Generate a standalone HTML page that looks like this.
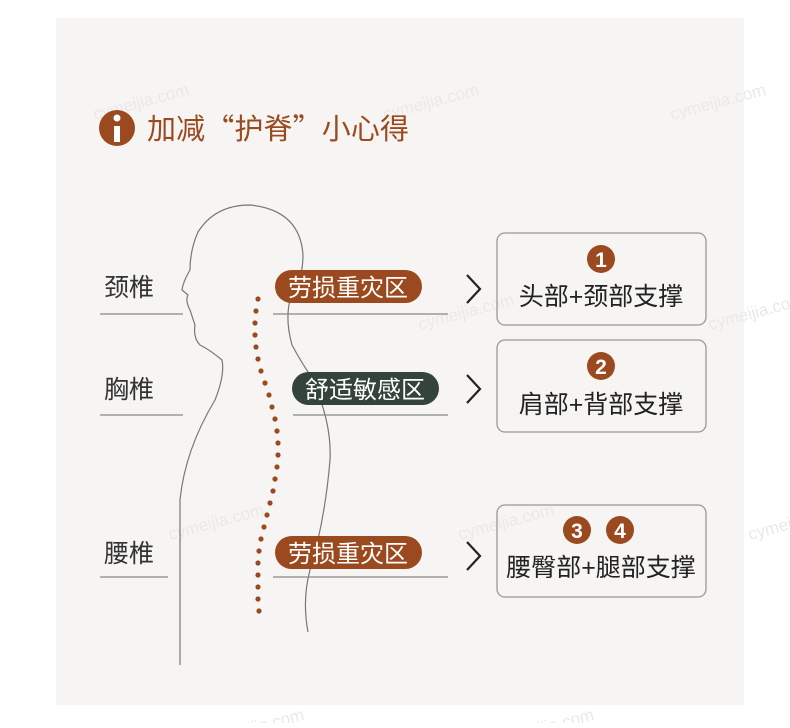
<!DOCTYPE html>
<html><head><meta charset="utf-8"><style>
body{margin:0;width:790px;height:723px;background:#fff;overflow:hidden;font-family:"Liberation Sans","Noto Sans CJK SC",sans-serif}
</style></head><body>
<svg width="790" height="723" xmlns="http://www.w3.org/2000/svg" font-family="Liberation Sans, Noto Sans CJK SC, sans-serif">
<rect x="56" y="18" width="688" height="687" fill="#f6f5f3"/>
<g fill="#ebe9e7" font-size="17">
<text x="95" y="120" transform="rotate(-15 95 120)">cymeijia.com</text>
<text x="385" y="120" transform="rotate(-15 385 120)">cymeijia.com</text>
<text x="672" y="120" transform="rotate(-15 672 120)">cymeijia.com</text>
<text x="420" y="330" transform="rotate(-15 420 330)">cymeijia.com</text>
<text x="710" y="330" transform="rotate(-15 710 330)">cymeijia.com</text>
<text x="170" y="540" transform="rotate(-15 170 540)">cymeijia.com</text>
<text x="460" y="540" transform="rotate(-15 460 540)">cymeijia.com</text>
<text x="750" y="540" transform="rotate(-15 750 540)">cymeijia.com</text>
<text x="210" y="745" transform="rotate(-15 210 745)">cymeijia.com</text>
<text x="500" y="745" transform="rotate(-15 500 745)">cymeijia.com</text>
</g>
<circle cx="117" cy="128" r="18" fill="#9b4a1f"/>
<rect x="114" y="126" width="6" height="16" fill="#fff"/>
<circle cx="117" cy="118" r="3.5" fill="#fff"/>
<text x="147" y="139" font-size="29" fill="#9b4a1f" font-family="Noto Sans CJK SC, sans-serif" textLength="262">加减“护脊”小心得</text>
<path d="M180 665 L180 500 Q185 450 215 400 Q225 375 222 360 Q210 350 200 345 Q193 338 195 325 L190 310 Q185 300 188 295 L182 290 Q183 282 190 270 Q190 250 198 232 Q215 205 250 205 Q300 210 303 255 Q303 280 290 300 Q285 320 292 345 Q300 360 310 375 Q332 420 330 460 Q325 520 310 570 Q302 600 308 632" fill="none" stroke="#777" stroke-width="1.2"/>
<g fill="#9b4a1f">
<circle cx="258" cy="299" r="2.6"/><circle cx="256" cy="311" r="2.6"/><circle cx="255" cy="323" r="2.6"/><circle cx="255" cy="335" r="2.6"/><circle cx="256" cy="347" r="2.6"/><circle cx="258" cy="359" r="2.6"/><circle cx="261" cy="371" r="2.6"/><circle cx="265" cy="383" r="2.6"/><circle cx="269" cy="395" r="2.6"/><circle cx="272" cy="407" r="2.6"/><circle cx="275" cy="419" r="2.6"/><circle cx="277" cy="431" r="2.6"/><circle cx="278" cy="443" r="2.6"/><circle cx="278" cy="455" r="2.6"/><circle cx="277" cy="467" r="2.6"/><circle cx="275" cy="479" r="2.6"/><circle cx="273" cy="491" r="2.6"/><circle cx="270" cy="503" r="2.6"/><circle cx="267" cy="515" r="2.6"/><circle cx="264" cy="527" r="2.6"/><circle cx="261" cy="539" r="2.6"/><circle cx="259" cy="551" r="2.6"/><circle cx="258" cy="563" r="2.6"/><circle cx="258" cy="575" r="2.6"/><circle cx="258" cy="587" r="2.6"/><circle cx="258" cy="599" r="2.6"/><circle cx="259" cy="611" r="2.6"/>
</g>
<g font-size="25" fill="#333">
<text x="104" y="296">颈椎</text><text x="104" y="398">胸椎</text><text x="104" y="562">腰椎</text>
</g>
<g stroke="#888" stroke-width="1.2">
<line x1="100" y1="314" x2="183" y2="314"/><line x1="100" y1="415" x2="183" y2="415"/><line x1="100" y1="577" x2="168" y2="577"/>
<line x1="273" y1="314" x2="448" y2="314"/><line x1="293" y1="415" x2="448" y2="415"/><line x1="273" y1="577" x2="448" y2="577"/>
</g>
<rect x="275" y="270" width="147" height="33" rx="16.5" fill="#9b4a1f"/>
<text x="348" y="296" font-size="24" fill="#fff" text-anchor="middle">劳损重灾区</text>
<rect x="292" y="372" width="147" height="33" rx="16.5" fill="#34443b"/>
<text x="365" y="398" font-size="24" fill="#fff" text-anchor="middle">舒适敏感区</text>
<rect x="275" y="536" width="147" height="33" rx="16.5" fill="#9b4a1f"/>
<text x="348" y="562" font-size="24" fill="#fff" text-anchor="middle">劳损重灾区</text>
<g fill="none" stroke="#222" stroke-width="2.2">
<path d="M467 275 L480 289 L467 303"/><path d="M467 375 L480 389 L467 403"/><path d="M467 542 L480 556 L467 570"/>
</g>
<g fill="none" stroke="#999" stroke-width="1.3">
<rect x="497" y="233" width="209" height="92" rx="8"/><rect x="497" y="340" width="209" height="92" rx="8"/><rect x="497" y="505" width="209" height="92" rx="8"/>
</g>
<g fill="#9b4a1f"><circle cx="601" cy="259" r="14"/><circle cx="601" cy="366" r="14"/><circle cx="577" cy="530" r="14"/><circle cx="620" cy="530" r="14"/></g>
<g fill="#fff" font-size="21" font-weight="bold" text-anchor="middle">
<text x="601" y="267">1</text><text x="601" y="374">2</text><text x="577" y="538">3</text><text x="620" y="538">4</text>
</g>
<g font-size="25" fill="#222" text-anchor="middle">
<text x="601" y="305">头部+颈部支撑</text><text x="601" y="413">肩部+背部支撑</text><text x="601" y="576">腰臀部+腿部支撑</text>
</g>
</svg>
</body></html>
